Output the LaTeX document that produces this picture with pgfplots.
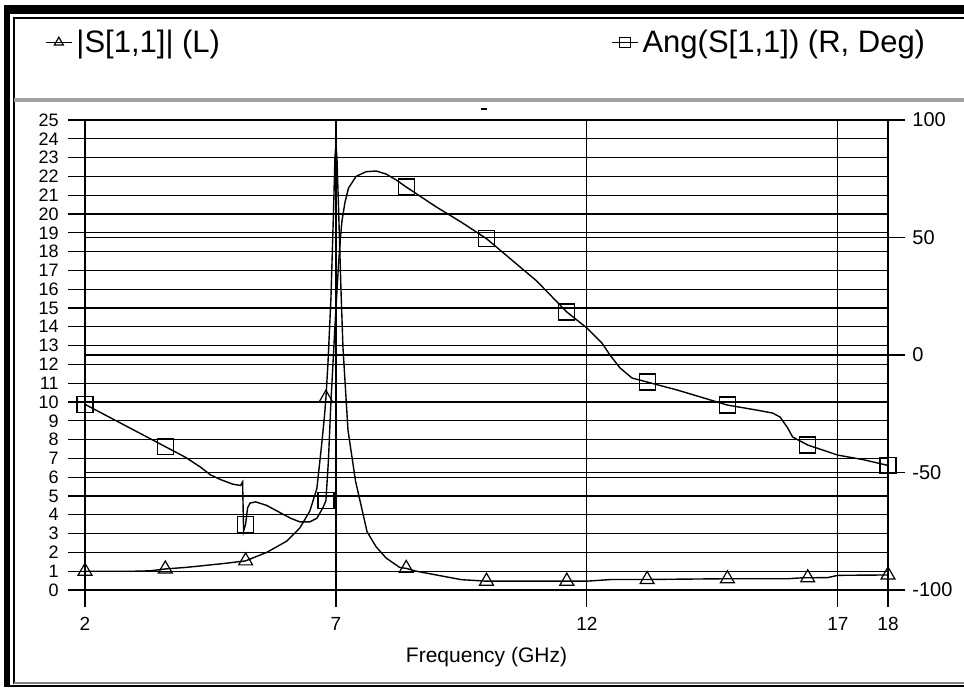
\documentclass[border=0pt]{standalone}
\usepackage{fontspec}
\setmainfont{Liberation Sans}
\usepackage{pgfplots}
\pgfplotsset{compat=1.18}

\begin{document}
\begin{tikzpicture}
\useasboundingbox (0,0) rectangle (482pt,343.5pt);
\fill[white] (0,0) rectangle (482pt,343.5pt);
% window frame, in screen pixels (0.5pt each, y downwards)
\begin{scope}[x=0.5pt,y=-0.5pt,shift={(0pt,343.5pt)}]
  \fill[black] (4,5) rectangle (964,14);
  \fill[black] (4,5) rectangle (10,687);
  \draw[line width=0.6pt] (14,684) -- (14,18) -- (964,18);
  \draw[gray, line width=0.8pt] (14,683) -- (964,683);
  \draw[line width=1pt] (4,686) -- (964,686);
  \fill[gray!75] (14,98) rectangle (964,102);
  \draw[line width=0.8pt] (481,109) -- (487,109);
\end{scope}

\begin{axis}[
  at={(42.5pt,48.5pt)}, anchor=south west,
  scale only axis, width=401.5pt, height=235pt,
  xmin=2, xmax=18, ymin=0, ymax=25,
  xtick={2,7,12,17,18}, xticklabels={2,7,12,17,18},
  ytick={0,1,2,3,4,5,6,7,8,9,10,11,12,13,14,15,16,17,18,19,20,21,22,23,24,25},
  yticklabels={0,1,2,3,4,5,6,7,8,9,10,11,12,13,14,15,16,17,18,19,20,21,22,23,24,25},
  xtick pos=bottom, ytick pos=left,
  tick align=outside, major tick length=8.5pt,
  grid=major, major grid style={black, line width=0.6pt},
  axis line style={black, line width=0.6pt},
  tick style={black, line width=0.6pt},
  yticklabel style={font=\fontsize{9}{9}\selectfont, inner sep=0pt, xshift=-4.5pt},
  xticklabel style={font=\fontsize{9.5}{9.5}\selectfont, inner sep=0pt, yshift=-5pt},
  xlabel={Frequency (GHz)},
  xlabel style={font=\fontsize{10.5}{10.5}\selectfont, at={(axis description cs:0.5,-0.143)}, anchor=center},
  legend style={at={(axis description cs:-0.05,1.165)}, anchor=west, draw=none, fill=none,
    inner sep=0pt, font=\fontsize{15.5}{15.5}\selectfont},
  legend image code/.code={\draw[mark repeat=2,mark phase=2] plot coordinates {(0pt,0pt)(6.5pt,0pt)(13pt,0pt)};},
]
\addlegendimage{black, line width=0.6pt, mark=triangle, mark size=2.6pt, mark options={solid}}
\addlegendentry{|S[1,1]| (L)}
% |S[1,1]| curve
\addplot[black, line width=0.7pt, no marks, forget plot] coordinates {
  (2,1.0) (2.5,1.0) (3.0,1.0) (3.3,1.02) (3.6,1.12) (4.0,1.2) (4.3,1.28)
  (4.8,1.42) (5.2,1.55) (5.62,2.0) (6.02,2.6) (6.28,3.3) (6.48,4.2)
  (6.62,5.4) (6.71,7.6) (6.77,9.2) (6.8,10.2) (6.84,12) (6.9,15.5)
  (6.95,20) (6.98,23) (7.0,23.7) (7.02,23) (7.05,20.5) (7.1,16)
  (7.14,12.9) (7.24,8.5) (7.39,5.8) (7.62,3.1) (7.8,2.3) (8.0,1.7)
  (8.27,1.2) (8.4,1.15) (8.6,1.0) (9.0,0.8) (9.5,0.55) (10,0.47)
  (11.6,0.47) (12.0,0.47) (12.5,0.56) (13.2,0.56) (14.0,0.58) (14.8,0.6)
  (16.0,0.6) (16.3,0.65) (16.4,0.65) (16.8,0.66) (17.0,0.78) (18.0,0.8)
};
\addplot[black, only marks, mark=triangle, mark size=4pt, mark options={line width=0.6pt}, forget plot] coordinates {
  (2,1.0) (3.6,1.12) (5.2,1.55) (6.8,10.2) (8.4,1.15) (10,0.47)
  (11.6,0.47) (13.2,0.56) (14.8,0.6) (16.4,0.65) (18,0.8)
};
\end{axis}

\begin{axis}[
  at={(42.5pt,48.5pt)}, anchor=south west,
  scale only axis, width=401.5pt, height=235pt,
  xmin=2, xmax=18, ymin=-100, ymax=100,
  axis x line=none, axis y line*=right,
  ytick={-100,-50,0,50,100}, yticklabels={-100,-50,0,50,100},
  tick align=outside, major tick length=8.5pt,
  ymajorgrids, major grid style={black, line width=0.6pt},
  axis line style={black, line width=0.6pt},
  tick style={black, line width=0.6pt},
  yticklabel style={font=\fontsize{10}{10}\selectfont, inner sep=0pt, xshift=3.5pt},
  legend style={at={(axis description cs:0.655,1.165)}, anchor=west, draw=none, fill=none,
    inner sep=0pt, font=\fontsize{15.5}{15.5}\selectfont},
  legend image code/.code={\draw[mark repeat=2,mark phase=2] plot coordinates {(0pt,0pt)(6.5pt,0pt)(13pt,0pt)};},
]
\addlegendimage{black, line width=0.6pt, mark=square, mark size=2.6pt, mark options={solid}}
\addlegendentry{Ang(S[1,1]) (R, Deg)}
% Ang(S[1,1]) curve
\addplot[black, line width=0.7pt, no marks, forget plot] coordinates {
  (2,-21) (2.4,-25.5) (2.8,-30) (3.2,-34.5) (3.6,-39) (4.0,-43.5) (4.3,-47.7)
  (4.5,-51) (4.7,-53) (4.95,-55) (5.1,-55.5) (5.14,-54) (5.16,-75) (5.2,-72)
  (5.24,-65) (5.29,-63) (5.4,-62.5) (5.62,-64) (5.88,-67) (6.1,-69.5)
  (6.28,-71) (6.48,-71) (6.62,-69.5) (6.74,-65) (6.8,-62) (6.85,-45)
  (6.9,-20) (6.95,0) (7.0,20) (7.05,38) (7.09,50) (7.12,57) (7.18,65)
  (7.25,71) (7.4,76) (7.6,78) (7.8,78.3) (8.0,77) (8.2,74.5) (8.4,71.5)
  (9.0,63) (9.5,56.5) (10,49.5) (10.5,40.5) (11,31.5) (11.6,18.3)
  (12.0,11.5) (12.3,5.1) (12.46,0) (12.66,-5.5) (12.9,-9.8) (13.2,-11.5)
  (13.8,-14.9) (14.8,-21.3) (15.4,-23.5) (15.7,-24.7) (15.85,-26.4)
  (16.0,-31) (16.1,-34.9) (16.4,-38.3) (17.0,-42.6) (17.5,-44.5) (18.0,-47)
};
\addplot[black, only marks, mark=square, mark size=4pt, mark options={line width=0.6pt}, forget plot] coordinates {
  (2,-21) (3.6,-39) (5.2,-72) (6.8,-62) (8.4,71.5) (10,49.5)
  (11.6,18.3) (13.2,-11.5) (14.8,-21.3) (16.4,-38.3) (18,-47)
};
\end{axis}
\end{tikzpicture}
\end{document}
